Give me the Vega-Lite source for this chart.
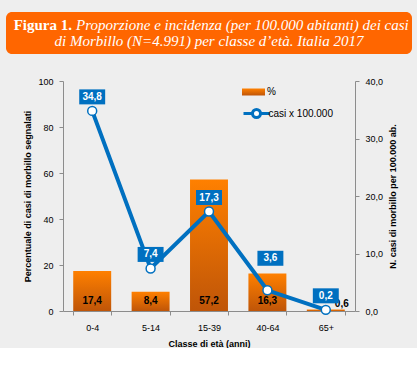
{
  "$schema": "https://vega.github.io/schema/vega-lite/v6.json",
  "background": "#eeeeee",
  "padding": {"left": 6, "top": 12, "right": 5, "bottom": 0},
  "spacing": 27,
  "center": true,
  "bounds": "flush",
  "config": {
    "font": "Liberation Sans",
    "locale": {"number": {"decimal": ",", "thousands": ".", "grouping": [3], "currency": ["", " €"]}},
    "axis": {
      "grid": false,
      "domainColor": "#8c8c8c",
      "tickColor": "#8c8c8c",
      "tickSize": 4,
      "labelPadding": 6,
      "labelFontSize": 9,
      "labelColor": "#000000",
      "titleFontSize": 9,
      "titleFontWeight": "bold",
      "titleColor": "#000000"
    }
  },
  "vconcat": [
    {
      "width": 406,
      "height": 42,
      "view": {"fill": "#ff6600", "stroke": null, "cornerRadius": 6},
      "layer": [
        {
          "data": {"values": [{"line": 1, "text": "Figura 1."}]},
          "mark": {"type": "text", "font": "Liberation Serif", "fontSize": 15, "fontWeight": "bold", "color": "white", "align": "right", "baseline": "middle", "dx": -137},
          "encoding": {
            "y": {"field": "line", "type": "ordinal", "axis": null, "scale": {"domain": [1, 2], "padding": 0.8}},
            "text": {"field": "text"}
          }
        },
        {
          "data": {"values": [{"line": 1, "text": "Proporzione e incidenza (per 100.000 abitanti) dei casi"}]},
          "mark": {"type": "text", "font": "Liberation Serif", "fontSize": 15, "fontStyle": "italic", "color": "white", "align": "left", "baseline": "middle", "dx": -133},
          "encoding": {
            "y": {"field": "line", "type": "ordinal", "axis": null, "scale": {"domain": [1, 2], "padding": 0.8}},
            "text": {"field": "text"}
          }
        },
        {
          "data": {"values": [{"line": 2, "text": "di Morbillo (N=4.991) per classe d’età. Italia 2017"}]},
          "mark": {"type": "text", "font": "Liberation Serif", "fontSize": 15, "fontStyle": "italic", "color": "white", "align": "center", "baseline": "middle"},
          "encoding": {
            "y": {"field": "line", "type": "ordinal", "axis": null, "scale": {"domain": [1, 2], "padding": 0.8}},
            "text": {"field": "text"}
          }
        }
      ]
    },
    {
      "width": 292,
      "height": 230,
      "view": {"stroke": null},
      "data": {
        "values": [
          {"age": "0-4", "pct": 17.4, "inc": 34.8},
          {"age": "5-14", "pct": 8.4, "inc": 7.4},
          {"age": "15-39", "pct": 57.2, "inc": 17.3},
          {"age": "40-64", "pct": 16.3, "inc": 3.6},
          {"age": "65+", "pct": 0.6, "inc": 0.2}
        ]
      },
      "encoding": {
        "x": {
          "field": "age", "type": "nominal", "sort": null,
          "scale": {"paddingInner": 0.35, "paddingOuter": 0.175},
          "axis": {"title": "Classe di età (anni)", "labelAngle": 0, "tickBand": "extent", "labelPadding": 8, "titlePadding": 7}
        }
      },
      "layer": [
        {
          "layer": [
            {
              "mark": {"type": "bar", "color": {"gradient": "linear", "x1": 0, "y1": 0, "x2": 0, "y2": 1, "stops": [{"offset": 0, "color": "#ff8000"}, {"offset": 1, "color": "#bf5508"}]}},
              "encoding": {
                "y": {"field": "pct", "type": "quantitative", "scale": {"domain": [0, 100]},
                  "axis": {"title": "Percentuale di casi di morbillo segnalati", "values": [0, 10, 20, 30, 40, 50, 60, 70, 80, 90, 100], "titlePadding": 5}},
                "opacity": {"datum": "%", "type": "nominal",
                  "scale": {"range": [1]},
                  "legend": {"title": null, "orient": "none", "legendX": 242.5, "legendY": 75, "padding": 0,
                    "symbolType": "M-2.3,-0.7H2.3V0.7H-2.3Z", "symbolSize": 100, "symbolStrokeWidth": 0,
                    "symbolFillColor": "#f07400",
                    "labelFontSize": 10, "labelColor": "#000000", "labelOffset": 8.5,
                    "encode": {"symbols": {"update": {"fill": {"value": "#f07400"}, "stroke": {"value": "transparent"}, "opacity": {"value": 1}}}}}}
              }
            },
            {
              "transform": [{"filter": "datum.pct >= 1"}],
              "mark": {"type": "text", "fontSize": 10, "fontWeight": "bold", "color": "#000000", "baseline": "middle", "dy": -10},
              "encoding": {
                "y": {"datum": 0, "type": "quantitative"},
                "text": {"field": "pct", "type": "quantitative", "format": ".1f"}
              }
            },
            {
              "transform": [{"filter": "datum.pct < 1"}],
              "mark": {"type": "text", "fontSize": 10, "fontWeight": "bold", "color": "#000000", "baseline": "middle", "dy": -7, "dx": 16},
              "encoding": {
                "y": {"datum": 0, "type": "quantitative"},
                "text": {"field": "pct", "type": "quantitative", "format": ".1f"}
              }
            }
          ]
        },
        {
          "layer": [
            {
              "mark": {"type": "line", "strokeWidth": 4},
              "encoding": {
                "y": {"field": "inc", "type": "quantitative", "scale": {"domain": [0, 40]},
                  "axis": {"orient": "right", "title": "N. casi di morbillo per 100.000 ab.", "values": [0, 5, 10, 15, 20, 25, 30, 35, 40], "format": ".1f", "titleAngle": 270, "titleBaseline": "top", "titlePadding": 6}},
                "stroke": {"datum": "casi x 100.000", "type": "nominal", "scale": {"range": ["#0070c0"]},
                  "legend": {"title": null, "orient": "none", "legendX": 244, "legendY": 95, "padding": 0,
                    "symbolType": "M-2.6,0H-0.8M0.8,0H2.6M0.8,0A0.8,0.8,0,1,1,-0.8,0A0.8,0.8,0,1,1,0.8,0",
                    "symbolSize": 100, "symbolStrokeWidth": 3, "symbolFillColor": "white",
                    "labelFontSize": 10, "labelColor": "#000000", "labelOffset": 5.5,
                    "encode": {"symbols": {"update": {"fill": {"value": "white"}}}}}}
              }
            },
            {
              "mark": {"type": "point", "filled": true, "fill": "white", "stroke": "#0070c0", "strokeWidth": 1.5, "size": 80, "opacity": 1},
              "encoding": {"y": {"field": "inc", "type": "quantitative"}}
            },
            {
              "transform": [{"filter": "datum.age != '40-64'"}],
              "mark": {"type": "point", "shape": "M-1.73,-2.87H1.73V-0.87H-1.73Z", "filled": true, "color": "#0070c0", "size": 225, "opacity": 1, "strokeWidth": 0},
              "encoding": {"y": {"field": "inc", "type": "quantitative"}}
            },
            {
              "transform": [{"filter": "datum.age != '40-64'"}],
              "mark": {"type": "text", "fontSize": 10, "fontWeight": "bold", "color": "white", "baseline": "middle", "dy": -14},
              "encoding": {
                "y": {"field": "inc", "type": "quantitative"},
                "text": {"field": "inc", "type": "quantitative", "format": ".1f"}
              }
            },
            {
              "transform": [{"filter": "datum.age == '40-64'"}],
              "mark": {"type": "point", "shape": "M-1.33,-5.27H2.13V-3.27H-1.33Z", "filled": true, "color": "#0070c0", "size": 225, "opacity": 1, "strokeWidth": 0},
              "encoding": {"y": {"field": "inc", "type": "quantitative"}}
            },
            {
              "transform": [{"filter": "datum.age == '40-64'"}],
              "mark": {"type": "text", "fontSize": 10, "fontWeight": "bold", "color": "white", "baseline": "middle", "dy": -32, "dx": 3},
              "encoding": {
                "y": {"field": "inc", "type": "quantitative"},
                "text": {"field": "inc", "type": "quantitative", "format": ".1f"}
              }
            }
          ]
        }
      ],
      "resolve": {"scale": {"y": "independent"}}
    }
  ]
}
